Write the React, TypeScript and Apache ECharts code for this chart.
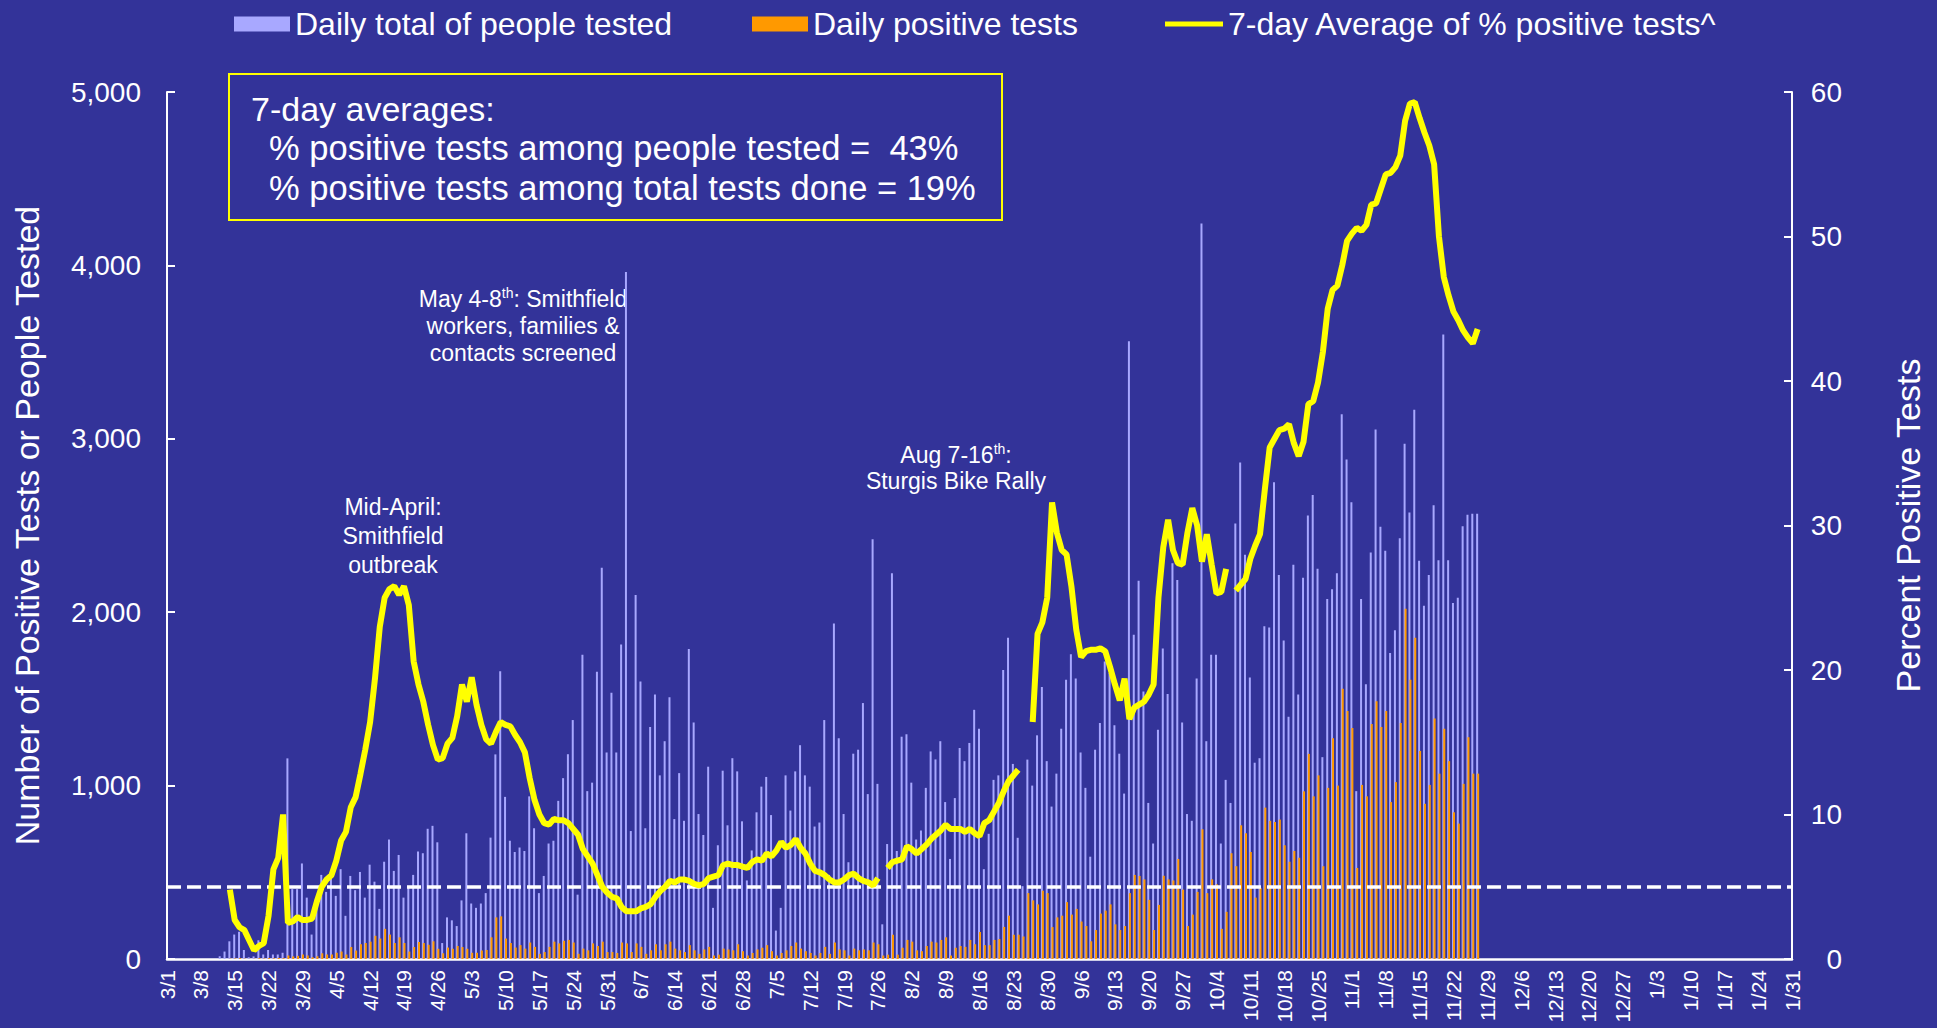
import React, { useEffect, useRef } from "react";
import * as echarts from "echarts";

// ---- categories: 3/1 .. 1/31 ----
const MONTHS: number[][] = [[3, 31], [4, 30], [5, 31], [6, 30], [7, 31], [8, 31], [9, 30], [10, 31], [11, 30], [12, 31], [1, 31]];
const categories: string[] = [];
for (const [m, n] of MONTHS) for (let d = 1; d <= n; d++) categories.push(`${m}/${d}`);

// ---- daily total of people tested (from 3/1) ----
const tested: number[] = [
  0, 0, 0, 0, 0, 0, 0, 0, 0, 0, 0,
  16, 43, 102, 141, 157, 52, 10, 15, 108, 26,
  52, 26, 26, 36, 1157, 403, 403, 551, 354, 141,
  321, 485, 387, 502, 364, 518, 249, 479, 397, 502,
  354, 544, 446, 289, 561, 689, 508, 600, 354, 420,
  485, 620, 610, 751, 768, 673, 92, 240, 223, 190,
  338, 725, 320, 295, 320, 380, 700, 1180, 1660, 935,
  682, 617, 643, 623, 938, 754, 380, 479, 666, 682,
  912, 1043, 1181, 1378, 371, 1755, 968, 1017, 1656, 2257,
  1191, 1535, 1191, 1814, 3962, 738, 2099, 1601, 754, 1338,
  1525, 1059, 1256, 1509, 807, 1072, 797, 1788, 1364, 836,
  715, 1109, 295, 656, 1086, 771, 1158, 1082, 794, 453,
  626, 846, 994, 1050, 830, 164, 295, 1059, 856, 1082,
  1233, 1059, 994, 764, 787, 1378, 485, 1935, 1273, 836,
  558, 1184, 1207, 1476, 951, 2421, 1010, 200, 663, 2224,
  623, 1282, 1296, 1017, 689, 741, 987, 1197, 1151, 1256,
  905, 577, 928, 1217, 1141, 1246, 1437, 1328, 518, 722,
  1033, 1059, 1666, 1853, 1125, 699, 420, 1150, 1000, 1290,
  1568, 1141, 879, 1069, 1328, 1610, 1758, 1617, 1191, 987,
  590, 1207, 1361, 1715, 1650, 1348, 1184, 954, 3562, 1870,
  2181, 1542, 900, 666, 1322, 1790, 1528, 2283, 2185, 1364,
  836, 797, 1617, 4241, 1256, 1755, 1755, 666, 1033, 900,
  2512, 2863, 2332, 1624, 1132, 1158, 1919, 1912, 2749, 2214,
  1837, 1397, 2273, 1525, 2198, 2558, 2676, 2250, 1164, 2076,
  2132, 2224, 3142, 2880, 2634, 968, 2076, 1584, 2345, 3054,
  2493, 2355, 1765, 1896, 2427, 2972, 2575, 3168, 2296, 2037,
  2214, 2617, 2299, 3601, 2299, 2053, 2083, 2496, 2562, 2568, 2568,
];

// ---- daily positive tests (from 3/1) ----
const positives: number[] = [
  0, 0, 0, 0, 0, 0, 0, 0, 0, 0, 0,
  0, 0, 2, 3, 5, 2, 1, 2, 5, 3,
  5, 4, 6, 5, 20, 15, 18, 26, 20, 10,
  16, 33, 26, 26, 36, 43, 26, 69, 49, 85,
  92, 100, 134, 118, 174, 141, 92, 125, 92, 43,
  69, 98, 92, 82, 102, 59, 33, 66, 59, 75,
  69, 59, 36, 36, 49, 52, 125, 240, 246, 118,
  92, 66, 80, 60, 95, 70, 30, 40, 70, 100,
  90, 105, 110, 95, 30, 60, 50, 90, 75, 100,
  40, 40, 35, 95, 90, 40, 90, 70, 30, 50,
  85, 50, 85, 100, 60, 50, 40, 80, 50, 30,
  55, 70, 20, 25, 60, 55, 50, 85, 45, 20,
  35, 55, 65, 80, 45, 20, 35, 50, 75, 95,
  60, 45, 35, 20, 35, 70, 30, 95, 55, 50,
  20, 60, 50, 55, 50, 95, 85, 20, 25, 140,
  25, 65, 110, 100, 50, 45, 75, 100, 95, 110,
  125, 20, 65, 75, 70, 110, 85, 155, 80, 80,
  110, 115, 185, 250, 140, 140, 130, 380, 338, 315,
  394, 380, 184, 240, 250, 328, 256, 289, 216, 190,
  102, 167, 262, 279, 315, 200, 167, 190, 380, 485,
  479, 459, 341, 167, 312, 480, 459, 453, 577, 400,
  190, 256, 387, 748, 380, 459, 430, 174, 272, 610,
  535, 771, 725, 617, 354, 410, 873, 797, 790, 804,
  656, 561, 623, 584, 967, 1183, 938, 1059, 535, 987,
  1273, 1000, 1558, 1430, 1332, 525, 1004, 938, 1355, 1486,
  1338, 1430, 905, 1020, 1361, 2020, 1610, 1853, 1200, 895,
  1004, 1387, 1069, 1328, 1141, 846, 781, 1010, 1279, 1069, 1069,
];

// ---- 7-day average of % positive tests (from 3/1) ----
const pctPositive: (number | null)[] = [
  null, null, null, null, null, null, null, null, null, null, null, null, null,
  4.8, 2.7, 2.2, 2.0, 1.3, 0.6, 0.9, 1.1,
  3.0, 6.2, 7.0, 10.0, 2.5, 2.6, 2.9, 2.7, 2.7, 2.8,
  4.0, 5.0, 5.5, 5.8, 6.8, 8.2, 8.8, 10.5, 11.2, 12.8,
  14.5, 16.4, 19.4, 23.0, 25.0, 25.6, 25.8, 25.2, 25.8, 24.5,
  20.6, 19.0, 17.8, 16.2, 14.8, 13.8, 13.9, 14.9, 15.3, 16.8,
  19.0, 17.8, 19.5, 17.6, 16.2, 15.2, 14.9, 15.7, 16.4, 16.2,
  16.1, 15.5, 15.0, 14.3, 12.5, 11.0, 10.0, 9.4, 9.3, 9.7,
  9.6, 9.6, 9.4, 9.0, 8.6, 7.6, 7.1, 6.6, 5.8, 5.0,
  4.6, 4.3, 4.2, 3.6, 3.3, 3.3, 3.3, 3.5, 3.6, 3.8,
  4.3, 4.7, 5.0, 5.4, 5.3, 5.5, 5.5, 5.4, 5.2, 5.1,
  5.2, 5.6, 5.7, 5.8, 6.5, 6.6, 6.5, 6.5, 6.4, 6.3,
  6.7, 6.9, 6.8, 7.3, 7.1, 7.5, 8.1, 7.7, 7.9, 8.3,
  7.7, 7.3, 6.6, 6.1, 6.0, 5.8, 5.5, 5.3, 5.3, 5.5,
  5.8, 5.9, 5.6, 5.4, 5.3, 5.1, 5.6, null, 6.3, 6.7,
  6.8, 6.9, 7.8, 7.6, 7.3, 7.6, 7.9, 8.3, 8.6, 8.9,
  9.3, 9.0, 9.0, 9.0, 8.8, 9.0, 8.7, 8.5, 9.4, 9.6,
  10.2, 10.8, 11.6, 12.3, 12.7, 13.1, null, null, 16.4, 22.5,
  23.3, 25.0, 31.6, 29.5, 28.3, 28.0, 25.8, 22.8, 20.9, 21.3,
  21.4, 21.4, 21.5, 21.3, 20.2, 19.0, 17.9, 19.4, 16.6, 17.4,
  17.6, 17.8, 18.3, 19.0, 25.0, 28.5, 30.4, 28.3, 27.4, 27.3,
  29.5, 31.2, 30.0, 27.5, 29.4, 27.3, 25.3, 25.4, 27.0, null,
  25.5, 25.9, 26.3, 27.7, 28.6, 29.4, 32.5, 35.4, 36.0, 36.6,
  36.7, 37.0, 35.7, 34.8, 35.8, 38.4, 38.6, 39.9, 42.0, 45.0,
  46.3, 46.6, 48.0, 49.7, 50.2, 50.6, 50.4, 50.8, 52.2, 52.3,
  53.3, 54.3, 54.4, 54.8, 55.6, 58.0, 59.2, 59.3, 58.2, 57.2,
  56.3, 55.0, 50.0, 47.2, 45.9, 44.8, 44.2, 43.5, 43.0, 42.6, 43.6,
];

const THRESHOLD_PCT = 5;
const leftTicks = { min: 0, max: 5000, interval: 1000 };
const rightTicks = { min: 0, max: 60, interval: 10 };

const SERIES_TESTED = "Daily total of people tested";
const SERIES_POS = "Daily positive tests";
const SERIES_PCT = "7-day Average of % positive tests^";

const BG = "#333399";
const FONT = "'Liberation Sans', Arial, Helvetica, sans-serif";

export default function App() {
  const ref = useRef<HTMLDivElement>(null);
  useEffect(() => {
    if (!ref.current) return;
    const chart = echarts.init(ref.current, undefined, { renderer: "svg" });
    const legendBase = {
      top: 8,
      padding: 0,
      icon: "rect",
      itemWidth: 56,
      itemHeight: 15,
      textStyle: { color: "#fff", fontSize: 32, fontFamily: FONT },
      selectedMode: false,
    };
    const option: any = {
      animation: false,
      backgroundColor: BG,
      textStyle: { fontFamily: FONT },
      grid: {
        left: 167,
        right: 145,
        top: 92,
        bottom: 69,
        containLabel: false,
        outerBoundsMode: "none",
      },
      legend: [
        { ...legendBase, left: 234, data: [SERIES_TESTED] },
        { ...legendBase, left: 752, data: [SERIES_POS] },
        {
          ...legendBase,
          left: 1165,
          itemWidth: 58,
          itemHeight: 5,
          data: [{ name: SERIES_PCT, icon: "rect", itemStyle: { color: "#FFFF00" } }],
        },
      ],
      xAxis: {
        type: "category",
        data: categories,
        boundaryGap: false,
        axisLine: { lineStyle: { color: "#fff", width: 2.5 } },
        axisTick: { show: false },
        axisLabel: {
          interval: 6,
          rotate: 90,
          color: "#fff",
          fontSize: 21,
          fontFamily: FONT,
          margin: 11,
        },
        splitLine: { show: false },
      },
      yAxis: [
        {
          type: "value",
          ...leftTicks,
          position: "left",
          name: "Number of Positive Tests or People Tested",
          nameLocation: "middle",
          nameRotate: 90,
          nameGap: 123,
          nameTextStyle: { color: "#fff", fontSize: 34, fontFamily: FONT },
          axisLine: { show: true, lineStyle: { color: "#fff", width: 2 } },
          axisTick: { show: true, inside: true, length: 8, lineStyle: { color: "#fff", width: 2 } },
          axisLabel: {
            color: "#fff",
            fontSize: 28,
            fontFamily: FONT,
            margin: 26,
            formatter: (v: number) => v.toLocaleString("en-US"),
          },
          splitLine: { show: false },
        },
        {
          type: "value",
          ...rightTicks,
          position: "right",
          name: "Percent Positive Tests",
          nameLocation: "middle",
          nameRotate: 90,
          nameGap: 99,
          nameTextStyle: { color: "#fff", fontSize: 34, fontFamily: FONT },
          axisLine: { show: true, lineStyle: { color: "#fff", width: 2 } },
          axisTick: { show: true, inside: true, length: 8, lineStyle: { color: "#fff", width: 2 } },
          axisLabel: { color: "#fff", fontSize: 28, fontFamily: FONT, margin: 50, align: "right" },
          splitLine: { show: false },
        },
      ],
      series: [
        {
          name: SERIES_TESTED,
          type: "bar",
          data: tested,
          barWidth: 2,
          barGap: "-50%",
          itemStyle: { color: "#A8A8FF" },
          z: 2,
        },
        {
          name: SERIES_POS,
          type: "bar",
          data: positives,
          barWidth: 2,
          itemStyle: { color: "#FF9900" },
          z: 3,
        },
        {
          name: SERIES_PCT,
          type: "line",
          yAxisIndex: 1,
          data: pctPositive,
          showSymbol: false,
          symbol: "none",
          connectNulls: false,
          lineStyle: { color: "#FFFF00", width: 6 },
          itemStyle: { color: "#FFFF00" },
          z: 6,
          markLine: {
            silent: true,
            symbol: ["none", "none"],
            label: { show: false },
            lineStyle: { color: "#ffffff", type: [14, 6], width: 3.5 },
            data: [{ yAxis: THRESHOLD_PCT }],
            z: 5,
          },
        },
      ],
      graphic: [
        {
          type: "rect",
          shape: { x: 229, y: 74, width: 773, height: 146 },
          style: { fill: "transparent", stroke: "#FFFF00", lineWidth: 2 },
        },
        {
          type: "text",
          x: 251,
          y: 109,
          style: { text: "7-day averages:", fill: "#fff", fontSize: 34, fontFamily: FONT, verticalAlign: "middle" },
        },
        {
          type: "text",
          x: 269,
          y: 148,
          style: {
            text: "% positive tests among people tested =  43%",
            fill: "#fff",
            fontSize: 34.5,
            fontFamily: FONT,
            verticalAlign: "middle",
          },
        },
        {
          type: "text",
          x: 269,
          y: 188,
          style: {
            text: "% positive tests among total tests done = 19%",
            fill: "#fff",
            fontSize: 34.5,
            fontFamily: FONT,
            verticalAlign: "middle",
          },
        },
        {
          type: "text",
          x: 393,
          y: 536,
          style: {
            text: "Mid-April:\nSmithfield\noutbreak",
            fill: "#fff",
            fontSize: 23,
            lineHeight: 29,
            fontFamily: FONT,
            align: "center",
            verticalAlign: "middle",
          },
        },
        {
          type: "text",
          x: 523,
          y: 326,
          style: {
            text: "{n|May 4-8}{s|th}{n|: Smithfield}\n{n|workers, families &}\n{n|contacts screened}",
            fill: "#fff",
            fontFamily: FONT,
            align: "center",
            verticalAlign: "middle",
            rich: {
              n: { fontSize: 23, lineHeight: 27, fill: "#fff", fontFamily: FONT },
              s: { fontSize: 14, lineHeight: 16, fill: "#fff", fontFamily: FONT, verticalAlign: "top" },
            },
          },
        },
        {
          type: "text",
          x: 956,
          y: 468,
          style: {
            text: "{n|Aug 7-16}{s|th}{n|:}\n{n|Sturgis Bike Rally}",
            fill: "#fff",
            fontFamily: FONT,
            align: "center",
            verticalAlign: "middle",
            rich: {
              n: { fontSize: 23, lineHeight: 26, fill: "#fff", fontFamily: FONT },
              s: { fontSize: 14, lineHeight: 16, fill: "#fff", fontFamily: FONT, verticalAlign: "top" },
            },
          },
        },
      ],
    };
    chart.setOption(option);
    return () => chart.dispose();
  }, []);
  return (
    <div
      ref={ref}
      style={{ position: "absolute", left: 0, top: 0, width: 1937, height: 1028, background: BG }}
    />
  );
}
